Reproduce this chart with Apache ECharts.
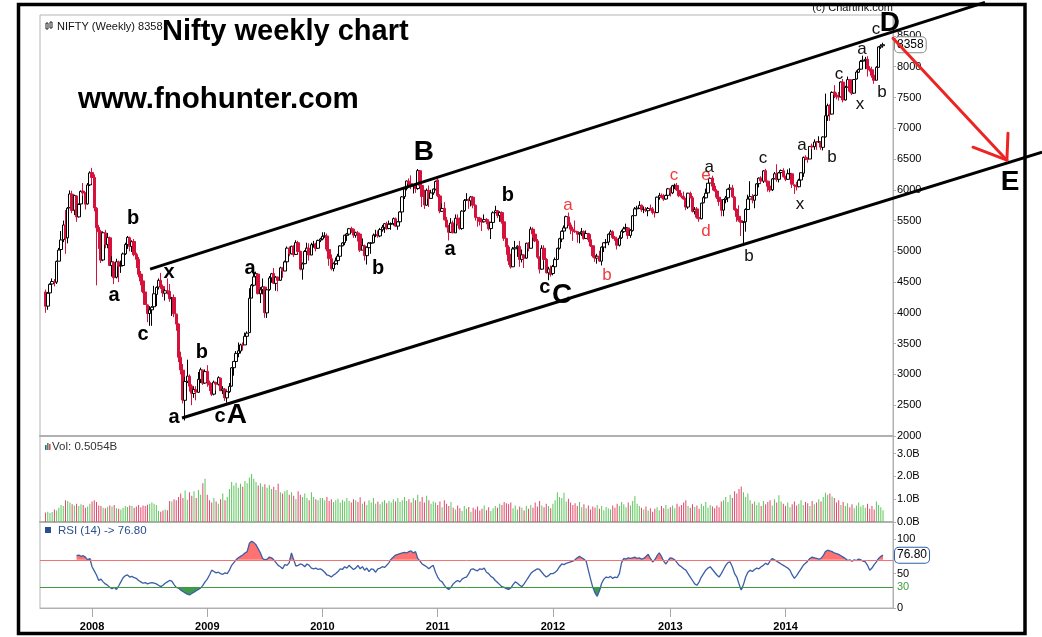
<!DOCTYPE html>
<html><head><meta charset="utf-8">
<script src="https://cdn.jsdelivr.net/npm/echarts@6/dist/echarts.min.js"></script>
<style>html,body{margin:0;padding:0;background:#fff}#c{width:1042px;height:637px}</style>
</head><body><div id="c"></div>
<script>
// ---------- DATA ----------
const firstWeek = '2007-08-13';           // Monday of first weekly candle
const yearLabels = ['2008','2009','2010','2011','2012','2013','2014'];
const lastPrice = 8358, lastVol = '0.5054B', lastRsi = '76.80';

// weekly candles [open, close, low, high]
const ohlc2007 = [[4340,4108,4002,4380],[4110,4320,4050,4340],[4325,4464,4300,4480],[4470,4510,4440,4560],[4510,4494,4430,4550],[4500,4837,4470,4850],[4840,5021,4840,5055],[5030,5185,5010,5330],[5190,5428,5150,5500],[5430,5215,4960,5670],[5220,5702,5130,5720],[5710,5932,5700,5990],[5930,5663,5620,5985],[5670,5907,5590,5920],[5900,5560,5480,5910],[5560,5762,5550,5780],[5770,5974,5760,5990],[5980,5948,5900,6110],[5950,5767,5680,5960],[5770,6079,5760,6110],[6080,6274,6060,6300]];
const ohlc2008 = [[6280,6200,6100,6357],[6200,5706,5650,6250],[5700,5383,4448,5720],[5390,5317,5040,5430],[5320,4857,4810,5350],[4860,5302,4840,5320],[5300,5110,5050,5350],[5110,5224,5050,5300],[5220,4771,4760,5240],[4770,4830,4590,4920],[4820,4573,4468,4840],[4580,4830,4560,4880],[4830,4761,4500,4850],[4760,4771,4650,4850],[4770,4958,4760,4980],[4960,5111,4940,5140],[5110,5228,5040,5250],[5220,5082,5000,5240],[5080,5157,4990,5180],[5160,4946,4920,5200],[4950,4870,4730,4980],[4870,4627,4580,4910],[4630,4517,4450,4680],[4520,4347,4320,4590],[4340,4136,4130,4400],[4130,3990,3848,4140],[3990,4050,3790,4110],[4050,4093,3790,4110],[4100,4311,4080,4440],[4300,4414,4110,4430],[4420,4529,4380,4560],[4530,4430,4390,4650],[4430,4324,4260,4460],[4320,4360,4200,4390],[4360,4352,4300,4560],[4350,4229,4180,4470],[4230,4245,3950,4260],[4250,3985,3930,4300],[3980,3818,3710,3990],[3820,3279,3200,3830],[3280,3074,3000,3370],[3070,2584,2530,3170],[2580,2885,2252,2960],[2890,2973,2860,3240],[2970,2810,2720,3000],[2810,2694,2500,2840],[2690,2755,2620,2800],[2750,2714,2580,2810],[2710,2921,2700,3040],[2920,3077,2860,3110],[3070,2858,2830,3080],[2860,3046,2850,3080]];
const ohlc2009 = [[3050,2874,2800,3150],[2870,2828,2730,2900],[2830,2678,2650,2860],[2680,2874,2660,2900],[2870,2843,2740,2880],[2840,2948,2820,2970],[2940,2736,2730,2950],[2740,2763,2680,2810],[2760,2620,2570,2780],[2620,2719,2539,2730],[2720,2807,2700,2860],[2810,3108,2800,3120],[3110,3211,2980,3220],[3210,3342,3200,3380],[3340,3384,3280,3520],[3380,3480,3340,3500],[3480,3474,3390,3520],[3480,3620,3480,3680],[3620,3671,3480,3700],[3680,4238,3680,4400],[4240,4449,4240,4470],[4450,4586,4430,4693],[4590,4637,4460,4670],[4630,4313,4300,4640],[4310,4375,4160,4420],[4380,4424,4300,4560],[4420,4004,3920,4430],[4000,4375,3918,4390],[4380,4568,4360,4600],[4570,4636,4490,4650],[4640,4481,4470,4730],[4480,4580,4360,4600],[4580,4528,4350,4590],[4530,4732,4520,4750],[4730,4681,4570,4740],[4680,4829,4680,4850],[4830,5052,4820,5080],[5050,4959,4920,5080],[4960,5083,4950,5090],[5080,4945,4910,5100],[4950,5142,4940,5180],[5140,4997,4970,5170],[5000,4712,4690,5010],[4710,4796,4540,4820],[4800,4998,4790,5020],[5000,5052,4980,5140],[5050,4942,4850,5130],[4940,5108,4940,5140],[5110,5117,5060,5170],[5120,5047,5000,5140],[5050,5178,5040,5190],[5180,5201,5150,5220]];
const ohlc2010 = [[5200,5245,5180,5310],[5250,5252,5220,5311],[5250,5036,5000,5290],[5030,4882,4766,5050],[4880,4718,4690,4950],[4720,4800,4675,4820],[4800,4845,4780,4900],[4850,4922,4780,4960],[4920,5088,4910,5100],[5090,5137,5080,5150],[5140,5262,5100,5270],[5260,5282,5170,5300],[5280,5368,5260,5380],[5370,5361,5300,5400],[5360,5263,5220,5370],[5260,5304,5220,5320],[5300,5278,5160,5330],[5280,5018,4990,5290],[5020,5093,5020,5210],[5090,4931,4850,5110],[4930,5066,4786,5080],[5060,5135,4990,5150],[5130,5138,4960,5150],[5140,5263,5130,5290],[5260,5270,5230,5350],[5270,5251,5220,5340],[5250,5353,5230,5380],[5350,5393,5320,5430],[5390,5449,5300,5460],[5450,5368,5350,5480],[5370,5440,5360,5500],[5440,5452,5350,5470],[5450,5531,5420,5550],[5530,5409,5400,5550],[5410,5480,5350,5490],[5480,5640,5470,5650],[5640,5885,5630,5900],[5890,6018,5850,6030],[6020,6143,5990,6150],[6140,6103,6050,6185],[6100,6063,6010,6235],[6060,6066,5940,6090],[6070,6018,5950,6110],[6020,6312,6000,6338],[6310,6071,6050,6320],[6070,5891,5720,6090],[5890,5752,5690,6000],[5750,5993,5740,6020],[5990,5857,5720,6070],[5860,5949,5860,6000],[5950,6012,5920,6020],[6010,6135,5990,6150]];
const ohlc2011 = [[6160,5904,5880,6181],[5900,5654,5620,5930],[5650,5696,5640,5780],[5700,5512,5500,5800],[5510,5395,5390,5560],[5400,5310,5177,5430],[5310,5459,5300,5540],[5460,5303,5290,5500],[5300,5538,5300,5600],[5540,5445,5420,5600],[5440,5373,5350,5550],[5370,5654,5350,5670],[5660,5826,5640,5850],[5830,5842,5820,5945],[5840,5824,5690,5860],[5820,5884,5730,5900],[5880,5749,5700,5900],[5750,5552,5500,5760],[5550,5544,5400,5560],[5540,5486,5420,5560],[5490,5476,5330,5500],[5480,5516,5470,5600],[5520,5485,5440,5540],[5480,5366,5340,5520],[5370,5471,5200,5480],[5470,5627,5460,5650],[5630,5660,5620,5740],[5660,5581,5540,5670],[5580,5633,5480,5650],[5630,5482,5450,5650],[5480,5212,5170,5550],[5210,5073,4945,5220],[5070,4845,4780,5100],[4850,4748,4720,4960],[4750,5040,4750,5070],[5040,5059,4900,5170],[5060,5084,4910,5100],[5080,4868,4750,5170],[4870,4943,4820,5030],[4940,4889,4730,4950],[4890,5132,4880,5140],[5130,5049,5000,5150],[5050,5360,5050,5400],[5360,5284,5220,5390],[5280,5168,5150,5330],[5170,4906,4880,5200],[4900,4710,4640,4920],[4710,5050,4700,5100],[5050,4867,4850,5100],[4870,4652,4640,4890],[4650,4714,4531,4750],[4710,4624,4590,4770]];
const ohlc2012 = [[4640,4754,4610,4780],[4750,4866,4740,4900],[4870,5049,4860,5060],[5050,5205,5030,5220],[5200,5326,5150,5340],[5330,5381,5330,5420],[5380,5564,5360,5580],[5560,5429,5410,5630],[5430,5359,5280,5470],[5360,5333,5170,5400],[5330,5318,5300,5500],[5320,5278,5140,5330],[5280,5296,5130,5310],[5300,5322,5250,5380],[5320,5207,5190,5340],[5210,5290,5200,5340],[5290,5190,5150,5300],[5190,5087,5070,5280],[5090,4928,4900,5100],[4930,4891,4830,4990],[4890,4921,4800,4960],[4920,4842,4830,5010],[4840,5068,4770,5080],[5070,5139,4990,5150],[5140,5146,5050,5200],[5150,5279,5100,5290],[5280,5317,5270,5350],[5320,5227,5200,5340],[5230,5205,5170,5250],[5200,5100,5030,5210],[5100,5215,5080,5260],[5220,5320,5200,5350],[5320,5366,5300,5400],[5370,5387,5360,5450],[5380,5258,5200,5390],[5260,5342,5220,5360],[5340,5577,5320,5590],[5580,5691,5580,5720],[5690,5703,5630,5740],[5700,5747,5690,5815],[5750,5676,5640,5760],[5680,5684,5620,5730],[5680,5665,5640,5720],[5660,5697,5570,5720],[5700,5686,5660,5760],[5690,5632,5600,5720],[5630,5627,5550,5650],[5630,5880,5630,5890],[5880,5908,5840,5950],[5910,5880,5860,5940],[5880,5848,5820,5930],[5850,5908,5840,5920],[5910,6016,5900,6030]];
const ohlc2013 = [[6010,5951,5890,6040],[5950,6065,5930,6080],[6070,6074,6010,6100],[6070,5998,5980,6111],[5990,5904,5880,6010],[5900,5887,5860,5950],[5890,5850,5840,5970],[5850,5719,5670,5870],[5720,5945,5690,5950],[5940,5872,5860,5970],[5870,5651,5630,5900],[5650,5683,5600,5720],[5690,5553,5530,5720],[5550,5528,5480,5600],[5530,5783,5520,5790],[5790,5871,5780,5900],[5870,5944,5860,6020],[5950,6107,5930,6110],[6110,6187,6060,6200],[6190,6059,5990,6230],[6060,5985,5970,6110],[5980,5881,5850,6010],[5880,5809,5740,5900],[5810,5667,5570,5850],[5670,5842,5570,5850],[5840,5867,5780,5900],[5870,6009,5800,6020],[6010,6029,5910,6090],[6030,5886,5870,6080],[5880,5677,5660,5900],[5680,5565,5480,5700],[5570,5507,5480,5750],[5500,5471,5250,5550],[5470,5480,5118,5490],[5480,5680,5320,5700],[5680,5850,5670,5920],[5850,5889,5750,6140],[5890,5833,5780,5930],[5830,5907,5700,5920],[5910,6096,5900,6110],[6100,6189,6040,6200],[6190,6144,6100,6220],[6140,6307,6110,6320],[6310,6141,6120,6340],[6140,6056,5970,6150],[6060,5996,5960,6130],[6000,6176,5980,6190],[6180,6260,6170,6290],[6260,6168,6130,6415],[6170,6274,6120,6290],[6280,6313,6250,6330],[6310,6211,6200,6350]];
const ohlc2014 = [[6210,6171,6140,6230],[6170,6261,6160,6330],[6260,6266,6230,6350],[6260,6090,6030,6270],[6080,6063,5933,6090],[6060,6048,5990,6130],[6050,6155,6040,6180],[6160,6277,6130,6280],[6270,6527,6210,6540],[6530,6504,6480,6560],[6500,6494,6440,6530],[6500,6704,6500,6710],[6710,6695,6660,6750],[6700,6776,6650,6820],[6780,6779,6650,6790],[6780,6782,6760,6870],[6780,6694,6650,6780],[6690,6859,6640,6870],[6860,7203,6850,7563],[7200,7367,7120,7400],[7370,7230,7120,7390],[7230,7583,7230,7600],[7590,7542,7490,7700],[7540,7511,7470,7580],[7510,7508,7450,7590],[7510,7751,7500,7760],[7750,7460,7420,7800],[7460,7664,7450,7690],[7670,7790,7660,7840],[7790,7602,7580,7800],[7600,7568,7540,7720],[7570,7792,7560,7800],[7800,7913,7790,7940],[7910,7954,7900,7970],[7960,8086,7950,8110],[8090,8105,8020,8180],[8100,8121,7960,8160],[8120,7968,7840,8170],[7970,7945,7920,8010],[7950,7860,7820,8000],[7860,7779,7723,7900],[7780,7991,7780,8010],[7990,8322,7980,8330],[8320,8337,8290,8365],[8340,8358,8310,8390]];

// weekly volume, billions
const vol2007 = [0.42,0.45,0.40,0.44,0.55,0.50,0.62,0.75,0.70,0.95,0.92,0.85,0.78,0.72,0.80,0.70,0.78,0.74,0.62,0.68,0.80];
const vol2008 = [0.90,0.95,0.88,0.72,0.70,0.62,0.60,0.66,0.72,0.68,0.74,0.60,0.58,0.55,0.62,0.70,0.66,0.72,0.70,0.62,0.68,0.74,0.65,0.72,0.70,0.76,0.80,0.85,0.80,0.75,0.48,0.45,0.50,0.55,0.52,0.92,0.90,1.00,0.95,1.10,1.25,1.05,1.38,0.98,1.30,1.15,1.35,1.05,1.40,1.20,1.70,1.90];
const vol2009 = [1.20,0.95,0.85,1.05,0.90,0.80,1.00,1.25,0.95,1.10,1.45,1.75,1.60,1.72,1.50,1.68,1.55,1.80,1.70,1.95,2.10,1.90,1.75,1.60,1.70,1.55,1.65,1.50,1.62,1.45,1.55,1.40,1.68,1.30,1.25,1.35,1.40,1.20,1.30,1.15,1.00,1.35,1.20,1.10,1.25,1.05,0.95,1.30,1.10,1.00,0.95,1.05];
const vol2010 = [1.05,0.95,1.10,0.92,1.00,0.88,0.95,1.02,0.85,0.98,0.90,1.05,0.92,0.85,1.00,0.95,0.88,1.08,0.80,0.90,0.75,0.95,0.85,1.05,0.80,0.90,0.78,0.88,0.95,0.82,0.92,0.85,1.00,0.90,1.05,0.88,0.95,1.10,0.92,1.00,0.85,1.05,0.95,1.20,0.90,1.10,0.85,1.15,0.95,0.80,0.90,0.85];
const vol2011 = [0.75,0.90,0.65,0.95,0.80,0.70,0.88,0.62,0.55,0.72,0.60,0.48,0.70,0.58,0.66,0.45,0.62,0.55,0.68,0.50,0.58,0.72,0.52,0.65,0.48,0.60,0.70,0.62,0.80,0.75,0.88,0.82,0.78,0.85,0.60,0.72,0.55,0.68,0.62,0.50,0.70,0.58,0.75,0.62,0.85,0.68,0.92,0.72,0.65,0.80,0.70,0.60];
const vol2012 = [0.80,0.95,1.30,1.10,1.05,1.28,0.90,1.02,0.85,0.75,0.82,0.70,0.88,0.65,0.78,0.60,0.72,0.55,0.68,0.62,0.75,0.58,0.70,0.52,0.66,0.60,0.55,0.72,0.62,0.80,0.70,0.88,0.78,0.65,0.85,0.72,0.92,1.14,0.80,0.70,0.62,0.55,0.68,0.50,0.60,0.45,0.58,0.65,0.52,0.70,0.60,0.75,0.58];
const vol2013 = [0.65,0.72,0.60,0.80,0.68,0.75,0.85,0.95,0.70,0.62,0.78,0.66,0.72,0.58,0.80,0.70,0.88,0.62,0.75,0.68,0.60,0.72,0.65,0.90,0.95,1.10,0.88,1.20,1.05,1.35,1.25,1.45,1.56,1.30,1.10,1.25,0.95,0.80,0.90,0.75,0.85,0.70,0.92,0.78,0.88,0.95,0.72,1.00,0.85,1.17,0.90,0.80];
const vol2014 = [0.70,0.85,0.65,0.78,0.90,0.72,0.80,0.95,0.75,0.88,0.82,0.70,0.92,0.78,0.85,1.00,0.90,1.10,1.28,1.20,1.25,1.12,1.05,0.85,0.95,0.75,0.88,0.70,0.82,0.65,0.78,0.60,0.72,0.85,0.68,0.75,0.62,0.80,0.58,0.70,0.55,0.90,0.75,0.65,0.51];

// RSI(14)
const rsi2007 = [null,null,null,null,null,null,null,null,null,null,null,null,null,null,76,77,75,76,74,70,72];
const rsi2008 = [60,54,48,40,42,38,35,33,30,28,30,27,32,38,44,47,48,45,46,44,43,40,38,36,37,35,36,37,36,35,33,31,33,36,38,40,39,34,30,29,26,24,22,20,19,21,23,25,27,29,33,38];
const rsi2009 = [42,48,55,53,51,52,50,49,51,50,55,62,66,70,73,75,77,80,82,94,97,95,92,86,80,72,70,71,74,73,70,66,62,60,57,63,62,66,80,70,61,62,64,63,60,64,62,58,57,58,56,57];
const rsi2010 = [55,52,48,47,45,48,50,53,57,56,60,58,62,59,56,58,62,57,60,55,58,53,57,56,52,57,58,60,59,62,66,71,74,77,78,79,80,81,80,82,83,80,82,72,68,64,62,60,57,60,62,52];
const rsi2011 = [45,40,38,33,29,27,30,35,38,40,38,42,44,45,50,56,57,55,54,57,56,58,52,50,46,44,40,37,34,31,30,28,27,29,34,38,36,33,31,35,40,45,50,53,55,57,56,52,48,45,47,50];
const rsi2012 = [50,52,55,60,64,63,65,66,67,68,70,73,75,73,71,68,55,42,30,22,17,25,36,42,45,44,46,43,45,44,50,66,72,71,73,72,73,74,72,73,71,72,75,78,72,67,70,76,80,75,68,64,69];
const rsi2013 = [73,72,70,66,62,60,57,55,50,45,40,35,33,38,45,50,55,58,60,56,52,48,45,50,56,62,66,67,60,50,45,35,26,34,45,52,55,53,56,58,57,60,62,65,63,68,72,70,68,66,64,62];
const rsi2014 = [60,58,55,48,43,47,52,57,62,65,68,72,74,73,72,71,72,76,82,84,83,82,80,79,78,76,74,72,69,70,68,70,69,71,70,68,67,62,55,58,63,67,72,75,76.8];

// annotations in data space: [text, week index, price, size, color]
const waveLabels = [
 ['b',39.5,5539,'M','#000'],['a',30.9,4321,'M','#000'],['c',44.0,3688,'M','#000'],['x',55.7,4695,'M','#000'],
 ['b',70.6,3364,'M','#000'],['a',58.0,2341,'M','#000'],['c',78.8,2357,'M','#000'],['A',86.4,2341,'L','#000'],
 ['a',92.3,4760,'M','#000'],['b',150.1,4727,'M','#000'],['B',170.8,6610,'L','#000'],['a',182.6,5068,'M','#000'],
 ['b',208.7,5912,'M','#000'],['c',225.4,4451,'M','#000'],['C',233.1,4289,'L','#000'],
 ['a',235.8,5783,'S','#f03c3c'],['b',253.4,4614,'S','#f03c3c'],['c',283.7,6270,'S','#f03c3c'],['e',298.1,6270,'S','#f03c3c'],['d',298.1,5328,'S','#f03c3c'],
 ['a',299.5,6399,'S','#111'],['b',317.5,4922,'S','#111'],['c',323.8,6546,'S','#111'],['x',340.5,5799,'S','#111'],
 ['a',341.4,6757,'S','#111'],['b',355.0,6529,'S','#111'],['c',358.1,7909,'S','#111'],['x',367.6,7422,'S','#111'],
 ['a',368.5,8315,'S','#111'],['b',377.5,7585,'S','#111'],['c',374.8,8640,'S','#111'],
 ['D',381.1,8705,'L','#000'],['E',435.3,6123,'L','#000']
];
const channelLines = [[47.2,4711,424.0,9046],[61.6,2292,449.8,6610]];
const arrowLines = [[382.5,8461,433.9,6481],[433.9,6481,418.6,6692],[433.9,6481,434.4,6919]];

// ---------- BUILD ----------
const ohlc = [].concat(ohlc2007,ohlc2008,ohlc2009,ohlc2010,ohlc2011,ohlc2012,ohlc2013,ohlc2014);
const vol = [].concat(vol2007,vol2008,vol2009,vol2010,vol2011,vol2012,vol2013,vol2014);
const rsi = [].concat(rsi2007,rsi2008,rsi2009,rsi2010,rsi2011,rsi2012,rsi2013,rsi2014);
const N = ohlc.length, PAD_L = 2, PAD_R = 4;

const t0 = Date.parse(firstWeek + 'T00:00:00Z');
const weeks = ohlc.map((_, i) => new Date(t0 + i * 7 * 864e5).toISOString().slice(0, 10));
const cats = [], tickSet = new Set();
for (let i = 0; i < PAD_L; i++) cats.push('s' + i);
weeks.forEach((d, i) => {
  const y = d.slice(0, 4);
  if (i > 0 && y !== weeks[i - 1].slice(0, 4) && yearLabels.includes(y)) tickSet.add(cats.length);
  cats.push(d);
});
for (let i = 0; i < PAD_R; i++) cats.push('e' + i);
const padL = Array(PAD_L).fill('-'), padR = Array(PAD_R).fill('-');

const FONT = '"Liberation Sans", Arial, sans-serif';
const UP = '#ffffff', DOWN = '#d4123c';
const candleData = padL.concat(ohlc, padR);
const volData = padL.concat(vol.map((v, i) => ({
  value: v, itemStyle: { color: ohlc[i][1] >= ohlc[i][0] ? '#5cc65c' : '#e2486a' }
})), padR);
const rsiData = padL.concat(rsi.map(v => v == null ? '-' : v), padR);
const hiBase = padL.concat(rsi.map(v => v == null ? '-' : 70), padR);
const hiTop = padL.concat(rsi.map(v => v == null ? '-' : Math.max(v, 70) - 70), padR);
const loBase = padL.concat(rsi.map(v => v == null ? '-' : Math.min(v, 30)), padR);
const loTop = padL.concat(rsi.map(v => v == null ? '-' : 30 - Math.min(v, 30)), padR);

const gridCommon = { left: 40, width: 853, show: true, borderColor: '#b4b4b4', borderWidth: 1, containLabel: false };
const hiddenX = (gi) => ({
  type: 'category', gridIndex: gi, data: cats, boundaryGap: true,
  axisLine: { show: true, lineStyle: { color: '#b0b0b0', width: 2 } },
  axisTick: { show: false }, axisLabel: { show: false }, splitLine: { show: false }
});
const yCommon = (gi, extra) => Object.assign({
  type: 'value', gridIndex: gi, position: 'right', scale: false,
  axisLine: { show: true, lineStyle: { color: '#b0b0b0' } },
  axisTick: { show: true, length: 3, lineStyle: { color: '#b0b0b0' } },
  splitLine: { show: false }
}, extra);
const labelStyle = { color: '#000', fontSize: 11, fontFamily: FONT, margin: 4, showMaxLabel: false, formatter: (v) => String(v) };
const noSym = ['none', 'none'];
const hiddenLine = { color: 'rgba(0,0,0,0)', width: 0, type: 'solid' };
const boxLabel = (text, border) => ({
  show: true, position: 'end', distance: 2, formatter: text, color: '#000', fontSize: 12, fontFamily: FONT,
  backgroundColor: '#fff', borderColor: border, borderWidth: 1, borderRadius: 4, padding: [2, 2, 1, 2]
});

const chart = echarts.init(document.getElementById('c'), null, { renderer: 'canvas' });
chart.setOption({
  animation: false,
  backgroundColor: '#fff',
  textStyle: { fontFamily: FONT },
  grid: [
    Object.assign({ top: 15, height: 421 }, gridCommon),
    Object.assign({ top: 436, height: 86 }, gridCommon),
    Object.assign({ top: 522, height: 86 }, gridCommon)
  ],
  xAxis: [
    hiddenX(0), hiddenX(1),
    {
      type: 'category', gridIndex: 2, data: cats, boundaryGap: true,
      axisLine: { show: true, lineStyle: { color: '#b0b0b0' } },
      axisTick: { show: true, alignWithLabel: true, length: 9, interval: (i) => tickSet.has(i), lineStyle: { color: '#a8a8a8' } },
      axisLabel: { interval: (i) => tickSet.has(i), formatter: (v) => v.slice(0, 4), color: '#000', fontWeight: 'bold', fontSize: 11, fontFamily: FONT, margin: 13 },
      splitLine: { show: false }
    }
  ],
  yAxis: [
    yCommon(0, { min: 2000, max: 8840, interval: 500, axisLabel: labelStyle }),
    yCommon(1, { min: 0, max: 3.77, interval: 1, axisLabel: Object.assign({}, labelStyle, { formatter: (v) => v.toFixed(1) + 'B' }) }),
    yCommon(2, { min: 0, max: 125, interval: 50, axisLabel: labelStyle })
  ],
  series: [
    {
      type: 'candlestick', xAxisIndex: 0, yAxisIndex: 0, data: candleData, barWidth: 3,
      itemStyle: { color: UP, color0: DOWN, borderColor: '#000', borderColor0: DOWN, borderWidth: 1 },
      markLine: {
        silent: true, symbol: noSym, animation: false,
        data: [{ yAxis: lastPrice, lineStyle: hiddenLine, label: boxLabel(String(lastPrice), '#8a8a8a') }]
      }
    },
    { type: 'bar', xAxisIndex: 1, yAxisIndex: 1, data: volData, barWidth: 1 },
    { type: 'line', xAxisIndex: 2, yAxisIndex: 2, data: hiBase, stack: 'hi', symbol: 'none', lineStyle: { width: 0, opacity: 0 }, silent: true, z: 1 },
    { type: 'line', xAxisIndex: 2, yAxisIndex: 2, data: hiTop, stack: 'hi', symbol: 'none', lineStyle: { width: 0, opacity: 0 }, areaStyle: { color: '#ff7272', opacity: 1 }, silent: true, z: 1 },
    { type: 'line', xAxisIndex: 2, yAxisIndex: 2, data: loBase, stack: 'lo', symbol: 'none', lineStyle: { width: 0, opacity: 0 }, silent: true, z: 1 },
    { type: 'line', xAxisIndex: 2, yAxisIndex: 2, data: loTop, stack: 'lo', symbol: 'none', lineStyle: { width: 0, opacity: 0 }, areaStyle: { color: '#3f9a4c', opacity: 1 }, silent: true, z: 1 },
    {
      type: 'line', xAxisIndex: 2, yAxisIndex: 2, data: rsiData, symbol: 'none', z: 3,
      lineStyle: { color: '#3a5fa6', width: 1.3 },
      markLine: {
        silent: true, symbol: noSym, animation: false,
        data: [
          { yAxis: 70, lineStyle: { color: '#f07474', width: 1, type: 'solid' }, label: { show: false } },
          { yAxis: 30, lineStyle: { color: '#3f9a3f', width: 1, type: 'solid' },
            label: { show: true, position: 'end', distance: 4, formatter: '30', color: '#3f9a3f', fontSize: 11, fontFamily: FONT } },
          { yAxis: 76.8, lineStyle: hiddenLine, label: boxLabel(lastRsi, '#2f5ea6') }
        ]
      }
    }
  ]
});

// ---------- overlays placed through the chart's own scales ----------
const X0 = chart.convertToPixel({ xAxisIndex: 0 }, PAD_L);
const X1 = chart.convertToPixel({ xAxisIndex: 0 }, PAD_L + 100);
const xPx = (i) => X0 + (X1 - X0) * i / 100;
const yPx = (v) => chart.convertToPixel({ yAxisIndex: 0 }, v);

const g = [];
const sizes = { L: [28, 'bold'], M: [20, 'bold'], S: [17, 'normal'] };
waveLabels.forEach(([t, i, v, s, col]) => {
  const [fs, fw] = sizes[s];
  const tall = /[A-Zbd]/.test(t);
  g.push({ type: 'text', z: 100, x: xPx(i), y: yPx(v) + (tall ? 0 : 0.1 * fs),
    style: { text: t, fill: col, font: fw + ' ' + fs + 'px ' + FONT, align: 'center', verticalAlign: 'middle' } });
});
channelLines.forEach(([i1, v1, i2, v2]) => g.push({ type: 'line', z: 90,
  shape: { x1: xPx(i1), y1: yPx(v1), x2: xPx(i2), y2: yPx(v2) }, style: { stroke: '#000', lineWidth: 3 } }));
arrowLines.forEach(([i1, v1, i2, v2]) => g.push({ type: 'line', z: 91,
  shape: { x1: xPx(i1), y1: yPx(v1), x2: xPx(i2), y2: yPx(v2) }, style: { stroke: '#ec2424', lineWidth: 3, lineCap: 'round' } }));

// headline texts
g.push({ type: 'text', z: 100, x: 162, y: 32, style: { text: 'Nifty weekly chart', fill: '#000', font: 'bold 29px ' + FONT, align: 'left', verticalAlign: 'middle' } });
g.push({ type: 'text', z: 100, x: 78, y: 100, style: { text: 'www.fnohunter.com', fill: '#000', font: 'bold 29.5px ' + FONT, align: 'left', verticalAlign: 'middle' } });
g.push({ type: 'text', z: 100, x: 57, y: 27, style: { text: 'NIFTY (Weekly) ' + lastPrice, fill: '#111', font: '11px ' + FONT, align: 'left', verticalAlign: 'middle' } });
g.push({ type: 'rect', z: 100, shape: { x: 46, y: 23, width: 2, height: 6 }, style: { fill: '#fff', stroke: '#222', lineWidth: 1 } });
g.push({ type: 'rect', z: 100, shape: { x: 50, y: 22, width: 2, height: 6 }, style: { fill: '#fff', stroke: '#222', lineWidth: 1 } });
g.push({ type: 'text', z: 100, x: 893, y: 8, style: { text: '(c) Chartink.com', fill: '#111', font: '11px ' + FONT, align: 'right', verticalAlign: 'middle' } });
// volume caption
[['#3a5fa6', 45, 445, 5], ['#3f9a3f', 47, 443, 7], ['#e2486a', 49, 444, 6]].forEach(([c, x, y, h]) =>
  g.push({ type: 'rect', z: 100, shape: { x: x, y: y, width: 1.6, height: h }, style: { fill: c } }));
g.push({ type: 'text', z: 100, x: 52, y: 447, style: { text: 'Vol: ' + lastVol, fill: '#333', font: '11.5px ' + FONT, align: 'left', verticalAlign: 'middle' } });
// RSI caption
g.push({ type: 'rect', z: 100, shape: { x: 45, y: 527, width: 6, height: 6 }, style: { fill: '#2a4f8f' } });
g.push({ type: 'text', z: 100, x: 58, y: 530.5, style: { text: 'RSI (14) -> ' + lastRsi, fill: '#2a4f8f', font: '11.5px ' + FONT, align: 'left', verticalAlign: 'middle' } });
// outer frame
g.push({ type: 'rect', z: 110, shape: { x: 18.5, y: 4.5, width: 1006.5, height: 629 }, style: { fill: 'none', stroke: '#000', lineWidth: 3.5 } });

chart.setOption({ graphic: g });
</script>
</body></html>
